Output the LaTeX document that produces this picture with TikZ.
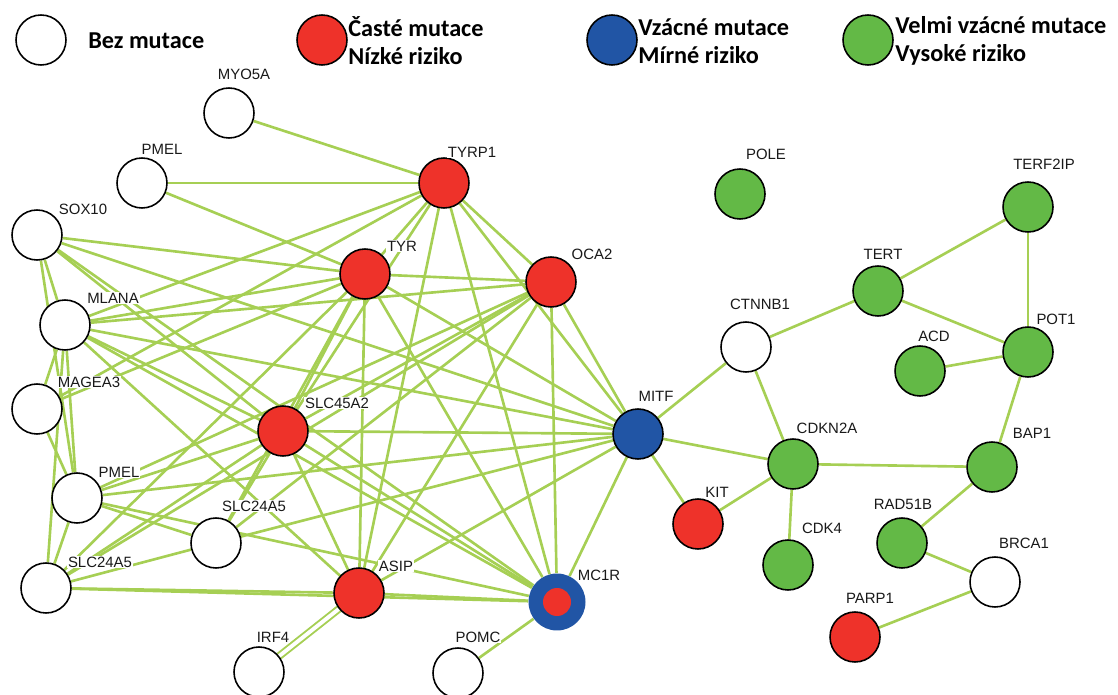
\documentclass[tikz,border=0pt]{standalone}
\usepackage{fontspec}
\setmainfont{Liberation Sans}
\newfontfamily\keyfont{Carlito}
\usepackage{tikz}
\usetikzlibrary{positioning}
\definecolor{edgegreen}{RGB}{166,207,84}
\definecolor{mutred}{RGB}{238,50,42}
\definecolor{mutblue}{RGB}{33,85,165}
\definecolor{mutgreen}{RGB}{99,185,70}
\pgfdeclarelayer{edges}
\pgfsetlayers{edges,main}
\tikzset{
    gene/.style={circle, draw=black, line width=0.9pt, minimum size=1cm, inner sep=0pt},
    genewhite/.style={gene, fill=white},
    genered/.style={gene, fill=mutred},
    geneblue/.style={gene, fill=mutblue},
    genegreen/.style={gene, fill=mutgreen},
    lbl/.style={fill=white, inner sep=0.6pt, text=black!90},
    edge/.style={draw=edgegreen, line width=1.5pt},
    keytext/.style={anchor=west, align=left, inner sep=0pt, font=\keyfont\bfseries\fontsize{13.8}{15.9}\selectfont}
}
\begin{document}
\begin{tikzpicture}[x=0.02cm, y=-0.02cm, every node/.style={font=\fontsize{8.5}{10}\selectfont}]
        \useasboundingbox (0,0) rectangle (1118,695);
        \node[genewhite] (keywhite) at (41,40) {};
        \node[genered] (keyred) at (322,40) {};
        \node[geneblue] (keyblue) at (612,40) {};
        \node[genegreen] (keygreen) at (868,40) {};
        \node[keytext] (keywhite-t) at (88,41) {Bez mutace};
        \node[keytext] (keyred-t) at (348,41) {Časté mutace\\Nízké riziko};
        \node[keytext] (keyblue-t) at (638,41) {Vzácné mutace\\Mírné riziko};
        \node[keytext] (keygreen-t) at (895,41) {Velmi vzácné mutace\\Vysoké riziko};

        \node[genewhite] (myo5a) at (229,113) {};
        \node[genewhite] (pmelt) at (142,183) {};
        \node[genewhite] (sox10) at (37,235) {};
        \node[genewhite] (mlana) at (65,325) {};
        \node[genewhite] (magea3) at (37,409) {};
        \node[genewhite] (pmelm) at (77,498) {};
        \node[genewhite] (slc24a5l) at (46,588) {};
        \node[genewhite] (slc24a5m) at (216,543) {};
        \node[genered] (slc45a2) at (283,431) {};
        \node[genered] (tyrp1) at (444,183) {};
        \node[genered] (tyr) at (365,274) {};
        \node[genered] (oca2) at (551,282) {};
        \node[genered] (asip) at (359,593) {};
        \node[genewhite] (irf4) at (259,672) {};
        \node[genewhite] (pomc) at (458,673) {};
        \node[circle, fill=mutblue, minimum size=1.14cm, inner sep=0pt] (mc1r) at (557,602) {};
        \node[circle, fill=mutred, minimum size=0.56cm, inner sep=0pt] (mc1rcore) at (mc1r) {};
        \node[geneblue] (mitf) at (638,434) {};
        \node[genewhite] (ctnnb1) at (746,347) {};
        \node[genegreen] (pole) at (740,194) {};
        \node[genegreen] (terf2ip) at (1028,207) {};
        \node[genegreen] (tert) at (878,291) {};
        \node[genegreen] (acd) at (920,371) {};
        \node[genegreen] (pot1) at (1028,352) {};
        \node[genegreen] (cdkn2a) at (793,464) {};
        \node[genegreen] (bap1) at (992,467) {};
        \node[genered] (kit) at (698,524) {};
        \node[genegreen] (cdk4) at (788,565) {};
        \node[genegreen] (rad51b) at (902,543) {};
        \node[genewhite] (brca1) at (995,582) {};
        \node[genered] (parp1) at (855,637) {};

        \begin{pgfonlayer}{edges}
        \draw[edge] (myo5a) -- (tyrp1);
        \draw[edge] (pmelt) -- (tyrp1);
        \draw[edge] (pmelt) -- (tyr);
        \draw[edge] (sox10) -- (tyr);
        \draw[edge] (sox10) -- (mitf);
        \draw[edge] (sox10) -- (slc45a2);
        \draw[edge] (sox10) -- (mc1r);
        \draw[edge] (sox10) -- (mlana);
        \draw[edge] (sox10) -- (pmelm);
        \draw[edge] (mlana) -- (tyrp1);
        \draw[edge] (mlana) -- (tyr);
        \draw[edge] (mlana) -- (oca2);
        \draw[edge] (mlana) -- (mitf);
        \draw[edge] (mlana) -- (slc45a2);
        \draw[edge] (mlana) -- (mc1r);
        \draw[edge] (mlana) -- (asip);
        \draw[edge] (mlana) -- (magea3);
        \draw[edge] (mlana) -- (pmelm);
        \draw[edge] (mlana) -- (slc24a5l);
        \draw[edge] (magea3) -- (tyrp1);
        \draw[edge] (magea3) -- (tyr);
        \draw[edge] (magea3) -- (pmelm);
        \draw[edge] (pmelm) -- (oca2);
        \draw[edge] (pmelm) -- (slc45a2);
        \draw[edge] (pmelm) -- (mitf);
        \draw[edge] (pmelm) -- (slc24a5m);
        \draw[edge] (pmelm) -- (mc1r);
        \draw[edge] (pmelm) -- (slc24a5l);
        \draw[edge] (slc24a5l) -- (asip);
        \draw[edge] (slc24a5l) -- (mc1r);
        \draw[edge] (slc24a5l) -- (slc24a5m);
        \draw[edge] (slc24a5l) -- (slc45a2);
        \draw[edge] (slc24a5l) -- (tyr);
        \draw[edge] (slc24a5l) -- (oca2);
        \draw[edge] (slc24a5m) -- (slc45a2);
        \draw[edge] (slc24a5m) -- (tyr);
        \draw[edge] (slc24a5m) -- (oca2);
        \draw[edge] (slc24a5m) -- (mitf);
        \draw[edge] (slc45a2) -- (tyr);
        \draw[edge] (slc45a2) -- (tyrp1);
        \draw[edge] (slc45a2) -- (oca2);
        \draw[edge] (slc45a2) -- (mitf);
        \draw[edge] (slc45a2) -- (mc1r);
        \draw[edge] (slc45a2) -- (asip);
        \draw[edge] (tyrp1) -- (tyr);
        \draw[edge] (tyrp1) -- (oca2);
        \draw[edge] (tyrp1) -- (mitf);
        \draw[edge] (tyrp1) -- (mc1r);
        \draw[edge] (tyrp1) -- (asip);
        \draw[edge] (tyr) -- (oca2);
        \draw[edge] (tyr) -- (mitf);
        \draw[edge] (tyr) -- (mc1r);
        \draw[edge] (tyr) -- (asip);
        \draw[edge] (oca2) -- (mitf);
        \draw[edge] (oca2) -- (mc1r);
        \draw[edge] (oca2) -- (asip);
        \draw[edge] (mitf) -- (mc1r);
        \draw[edge] (mitf) -- (asip);
        \draw[edge] (asip) -- (mc1r);
        \draw[edge, double=white, double distance=2.2pt, line width=1.1pt] (asip) -- (irf4);
        \draw[edge] (mc1r) -- (pomc);
        \draw[edge] (mitf) -- (ctnnb1);
        \draw[edge] (mitf) -- (cdkn2a);
        \draw[edge] (mitf) -- (kit);
        \draw[edge] (ctnnb1) -- (tert);
        \draw[edge] (ctnnb1) -- (cdkn2a);
        \draw[edge] (tert) -- (terf2ip);
        \draw[edge] (tert) -- (pot1);
        \draw[edge] (terf2ip) -- (pot1);
        \draw[edge] (acd) -- (pot1);
        \draw[edge] (pot1) -- (bap1);
        \draw[edge] (cdkn2a) -- (bap1);
        \draw[edge] (cdkn2a) -- (kit);
        \draw[edge] (cdkn2a) -- (cdk4);
        \draw[edge] (bap1) -- (rad51b);
        \draw[edge] (rad51b) -- (brca1);
        \draw[edge] (brca1) -- (parp1);
        \end{pgfonlayer}

        \node[lbl] (myo5a-l) at (244,74) {MYO5A};
        \node[lbl] (pmelt-l) at (162,149) {PMEL};
        \node[lbl] (sox10-l) at (83,209) {SOX10};
        \node[lbl] (mlana-l) at (113,298) {MLANA};
        \node[lbl] (magea3-l) at (89,382) {MAGEA3};
        \node[lbl] (pmelm-l) at (119,472) {PMEL};
        \node[lbl] (slc24a5l-l) at (100,562) {SLC24A5};
        \node[lbl] (slc24a5m-l) at (254,506) {SLC24A5};
        \node[lbl] (slc45a2-l) at (337,403) {SLC45A2};
        \node[lbl] (tyrp1-l) at (472,152) {TYRP1};
        \node[lbl] (tyr-l) at (402,246) {TYR};
        \node[lbl] (oca2-l) at (592,254) {OCA2};
        \node[lbl] (asip-l) at (396,566) {ASIP};
        \node[lbl] (irf4-l) at (273,637) {IRF4};
        \node[lbl] (pomc-l) at (478,637) {POMC};
        \node[lbl] (mc1r-l) at (599,575) {MC1R};
        \node[lbl] (mitf-l) at (656,396) {MITF};
        \node[lbl] (ctnnb1-l) at (760,304) {CTNNB1};
        \node[lbl] (pole-l) at (766,154) {POLE};
        \node[lbl] (terf2ip-l) at (1044,164) {TERF2IP};
        \node[lbl] (tert-l) at (883,254) {TERT};
        \node[lbl] (acd-l) at (934,336) {ACD};
        \node[lbl] (pot1-l) at (1056,319) {POT1};
        \node[lbl] (cdkn2a-l) at (827,428) {CDKN2A};
        \node[lbl] (bap1-l) at (1032,433) {BAP1};
        \node[lbl] (kit-l) at (717,492) {KIT};
        \node[lbl] (cdk4-l) at (822,528) {CDK4};
        \node[lbl] (rad51b-l) at (903,504) {RAD51B};
        \node[lbl] (brca1-l) at (1024,543) {BRCA1};
        \node[lbl] (parp1-l) at (870,598) {PARP1};
    \end{tikzpicture}
\end{document}
